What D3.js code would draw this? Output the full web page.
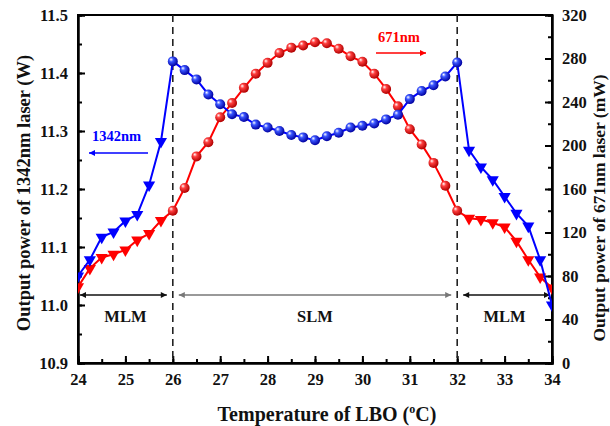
<!DOCTYPE html>
<html>
<head>
<meta charset="utf-8">
<script src="https://cdn.jsdelivr.net/npm/d3@7"></script>
<style>
  body { margin: 0; background: #fff; }
  svg text { font-family: "Liberation Serif", "Times New Roman", serif; font-weight: bold; }
</style>
</head>
<body>
<div id="chart"></div>
<script>
// temperature of LBO (deg C)
const temps = [24, 24.25, 24.5, 24.75, 25, 25.25, 25.5, 25.75, 26, 26.25, 26.5, 26.75, 27, 27.25, 27.5, 27.75,
  28, 28.25, 28.5, 28.75, 29, 29.25, 29.5, 29.75, 30, 30.25, 30.5, 30.75, 31, 31.25, 31.5, 31.75,
  32, 32.25, 32.5, 32.75, 33, 33.25, 33.5, 33.75, 34];
// 1342nm output (W)
const power1342 = [11.05, 11.078, 11.117, 11.126, 11.145, 11.156, 11.207, 11.282, 11.42, 11.405, 11.389, 11.363,
  11.346, 11.329, 11.324, 11.311, 11.306, 11.300, 11.293, 11.289, 11.284, 11.291, 11.297, 11.306, 11.309,
  11.313, 11.320, 11.328, 11.355, 11.369, 11.379, 11.394, 11.418, 11.267, 11.238, 11.216, 11.187, 11.158,
  11.136, 11.078, 11.00];
// 671nm output (mW)
const power671 = [70, 87, 97, 100, 104, 113, 119, 131, 140, 161, 190, 203, 226, 239, 253, 266, 276, 285, 290,
  292, 295, 294, 289, 282, 277, 266, 252, 236, 215, 201, 184, 163, 140, 133, 132, 129, 125, 112, 95, 79, 69];
// single-longitudinal-mode range
const slmRange = [26, 32];
const xTicks = [24, 25, 26, 27, 28, 29, 30, 31, 32, 33, 34];
const yLeftTicks = [10.9, 11.0, 11.1, 11.2, 11.3, 11.4, 11.5];
const yRightTicks = [0, 40, 80, 120, 160, 200, 240, 280, 320];

const width = 610, height = 426;
const m = { left: 78, right: 58, top: 15, bottom: 63 };
const W = width - m.left - m.right, H = height - m.top - m.bottom;

const svg = d3.select("#chart").append("svg")
  .attr("width", width).attr("height", height);
const defs = svg.append("defs");

defs.append("clipPath").attr("id", "plotClip")
  .append("rect").attr("width", W).attr("height", H);

function ballGradient(id, base, dark) {
  const g = defs.append("radialGradient").attr("id", id)
    .attr("cx", "40%").attr("cy", "40%").attr("r", "60%").attr("fx", "32%").attr("fy", "30%");
  g.append("stop").attr("offset", "0%").attr("stop-color", "#ffffff");
  g.append("stop").attr("offset", "35%").attr("stop-color", base);
  g.append("stop").attr("offset", "100%").attr("stop-color", dark);
}
ballGradient("ballBlue", "#3a55ff", "#0000a0");
ballGradient("ballRed", "#ff4040", "#b00000");

function arrowHead(id, color) {
  defs.append("marker").attr("id", id)
    .attr("viewBox", "0 0 10 10").attr("refX", 10).attr("refY", 5)
    .attr("markerWidth", 8).attr("markerHeight", 6).attr("markerUnits", "userSpaceOnUse")
    .attr("orient", "auto-start-reverse")
    .append("path").attr("d", "M0,0L10,5L0,10Z").attr("fill", color);
}
arrowHead("arBlack", "#111");
arrowHead("arGray", "#777");
arrowHead("arBlue", "#0000ff");
arrowHead("arRed", "#ff0000");

const g = svg.append("g").attr("transform", `translate(${m.left},${m.top})`);

const x = d3.scaleLinear().domain([24, 34]).range([0, W]);
const yL = d3.scaleLinear().domain([10.9, 11.5]).range([H, 0]);
const yR = d3.scaleLinear().domain([0, 320]).range([H, 0]);

// axes (ticks pointing inward)
g.append("g").attr("transform", `translate(0,${H})`)
  .call(d3.axisBottom(x).tickValues(d3.range(24, 34.01, 0.5)).tickSize(-4).tickFormat(""));
g.append("g").attr("transform", `translate(0,${H})`)
  .call(d3.axisBottom(x).tickValues(xTicks).tickSize(-7).tickPadding(10).tickFormat(d3.format("d")));
g.append("g")
  .call(d3.axisLeft(yL).tickValues(d3.range(10.9, 11.501, 0.05)).tickSize(-4).tickFormat(""));
g.append("g")
  .call(d3.axisLeft(yL).tickValues(yLeftTicks).tickSize(-7).tickPadding(10).tickFormat(d3.format(".1f")));
g.append("g").attr("transform", `translate(${W},0)`)
  .call(d3.axisRight(yR).tickValues(d3.range(0, 321, 20)).tickSize(-4).tickFormat(""));
g.append("g").attr("transform", `translate(${W},0)`)
  .call(d3.axisRight(yR).tickValues(yRightTicks).tickSize(-7).tickPadding(10).tickFormat(d3.format("d")));

g.selectAll(".domain").attr("stroke", "#000").attr("stroke-width", 2);
g.selectAll(".tick line").attr("stroke", "#000").attr("stroke-width", 2);
g.selectAll(".tick text").attr("font-size", 16.5).attr("fill", "#111")
  .attr("font-family", "Liberation Serif").attr("font-weight", "bold");

// frame
g.append("rect").attr("width", W).attr("height", H)
  .attr("fill", "none").attr("stroke", "#000").attr("stroke-width", 2);

// SLM boundaries
g.selectAll(".bound").data(slmRange).enter().append("line")
  .attr("x1", d => x(d)).attr("x2", d => x(d)).attr("y1", 0).attr("y2", H)
  .attr("stroke", "#222").attr("stroke-width", 1.6).attr("stroke-dasharray", "7,5");

// mode arrows
const yArrow = 280;
const modeSpans = [
  { from: 24, to: 26, label: "MLM", color: "#111", mk: "arBlack" },
  { from: 26, to: 32, label: "SLM", color: "#777", mk: "arGray" },
  { from: 32, to: 34, label: "MLM", color: "#111", mk: "arBlack" }
];
modeSpans.forEach(s => {
  g.append("line")
    .attr("x1", x(s.from) + (s.from === 24 ? 2 : 6)).attr("x2", x(s.to) - (s.to === 34 ? 2 : 6))
    .attr("y1", yArrow).attr("y2", yArrow)
    .attr("stroke", s.color).attr("stroke-width", 1.3)
    .attr("marker-start", `url(#${s.mk})`).attr("marker-end", `url(#${s.mk})`);
  g.append("text").attr("x", (x(s.from) + x(s.to)) / 2).attr("y", yArrow + 27)
    .attr("text-anchor", "middle").attr("font-size", 16.5).attr("fill", "#111").text(s.label);
});

// series
const isSLM = t => t >= slmRange[0] && t <= slmRange[1];
const tri = d3.symbol().type(d3.symbolTriangle).size(64);
const plot = g.append("g").attr("clip-path", "url(#plotClip)");

function drawSeries(values, yScale, color, ball) {
  const pts = temps.map((t, i) => ({ t, v: values[i] }));
  plot.append("path").datum(pts)
    .attr("fill", "none").attr("stroke", color).attr("stroke-width", 2)
    .attr("d", d3.line().x(d => x(d.t)).y(d => yScale(d.v)));
  plot.selectAll(null).data(pts.filter(d => !isSLM(d.t))).enter().append("path")
    .attr("d", tri)
    .attr("transform", d => `translate(${x(d.t)},${yScale(d.v)}) rotate(180)`)
    .attr("fill", color);
  plot.selectAll(null).data(pts.filter(d => isSLM(d.t))).enter().append("circle")
    .attr("cx", d => x(d.t)).attr("cy", d => yScale(d.v)).attr("r", 5)
    .attr("fill", `url(#${ball})`);
}
drawSeries(power671, yR, "#ff0000", "ballRed");
drawSeries(power1342, yL, "#0000ff", "ballBlue");

// wavelength labels with arrows
g.append("text").attr("x", 14).attr("y", 126).attr("font-size", 14.5).attr("fill", "#0000ff").text("1342nm");
g.append("line").attr("x1", 70).attr("x2", 11).attr("y1", 138).attr("y2", 138)
  .attr("stroke", "#0000ff").attr("stroke-width", 1.5).attr("marker-end", "url(#arBlue)");
g.append("text").attr("x", 300).attr("y", 27).attr("font-size", 14.5).attr("fill", "#ff0000").text("671nm");
g.append("line").attr("x1", 298).attr("x2", 348).attr("y1", 38).attr("y2", 38)
  .attr("stroke", "#ff0000").attr("stroke-width", 1.5).attr("marker-end", "url(#arRed)");

// axis titles
svg.append("text").attr("transform", `translate(30,${m.top + H / 2 + 4}) rotate(-90)`)
  .attr("text-anchor", "middle").attr("font-size", 18.5).attr("fill", "#111")
  .text("Output power of 1342nm laser  (W)");
svg.append("text").attr("transform", `translate(605,${m.top + H / 2 + 19}) rotate(-90)`)
  .attr("text-anchor", "middle").attr("font-size", 17.5).attr("fill", "#111")
  .text("Output power of 671nm laser  (mW)");
const xt = svg.append("text").attr("x", 327).attr("y", 421)
  .attr("text-anchor", "middle").attr("font-size", 20).attr("fill", "#111");
xt.append("tspan").text("Temperature of LBO (");
xt.append("tspan").attr("font-size", 12).attr("dy", -8).text("o");
xt.append("tspan").attr("dy", 8).text("C)");
</script>
</body>
</html>
